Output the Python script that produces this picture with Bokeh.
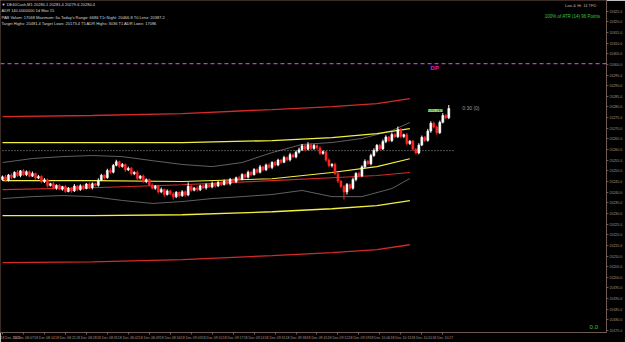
from bokeh.plotting import figure
from bokeh.models import (Range1d, FixedTicker, Label, Span, PrintfTickFormatter,
                          ColumnDataSource)
from bokeh.embed import file_html
from bokeh.resources import INLINE

# ---------------- data ----------------
closes = [20247.2, 20245.6, 20248.1, 20246.9, 20249.3, 20247.8, 20250.0, 20248.2, 20249.6, 20247.5,
          20248.8, 20246.6, 20247.4, 20244.9, 20245.8, 20243.1, 20244.0, 20241.9, 20243.2, 20241.4,
          20242.6, 20240.3, 20241.8, 20240.6, 20242.9, 20241.2, 20243.0, 20241.7, 20243.8, 20242.1,
          20244.0, 20243.2, 20245.6, 20247.9, 20246.8, 20250.2, 20249.4, 20252.6, 20254.3, 20252.1,
          20253.0, 20250.4, 20251.2, 20248.6, 20249.3, 20246.5, 20247.6, 20245.1, 20245.9, 20243.4,
          20241.8, 20242.9, 20240.1, 20241.3, 20238.9, 20240.6, 20239.2, 20237.8, 20239.9, 20238.3,
          20240.2, 20238.7, 20242.8, 20240.9, 20242.0, 20241.1, 20243.0, 20241.9, 20243.6, 20242.4,
          20244.1, 20242.9, 20244.6, 20243.5, 20245.2, 20244.0, 20246.0, 20244.9, 20246.8, 20246.1,
          20248.3, 20247.0, 20249.4, 20248.2, 20250.6, 20249.3, 20251.9, 20250.5, 20252.8, 20251.6,
          20254.0, 20252.7, 20255.1, 20254.0, 20256.3, 20255.2, 20257.6, 20256.5, 20258.8, 20259.9,
          20261.8, 20260.1, 20262.3, 20260.5, 20261.9, 20260.7, 20258.2, 20259.0, 20255.1, 20252.4,
          20253.1, 20248.7, 20245.2, 20242.6, 20240.1, 20243.6, 20241.8, 20245.9, 20248.8, 20247.6,
          20251.9, 20254.5, 20253.3, 20257.2, 20259.6, 20262.0, 20260.3, 20263.8, 20265.9, 20264.2,
          20267.1, 20266.0, 20269.4, 20266.1, 20267.0, 20262.8, 20263.9, 20260.2, 20258.4, 20262.1,
          20265.8, 20264.3, 20268.7, 20272.4, 20270.6, 20267.9, 20272.8, 20276.0, 20274.9, 20279.3]
first_open = 20245.9

upper_wicks = [0.6, 0.9, 0.4, 0.7, 0.5, 1.1, 0.4, 0.8, 0.6, 0.5,
               0.9, 0.4, 0.7, 0.5, 0.8, 0.6, 0.4, 1.0, 0.5, 0.7,
               0.4, 0.8, 0.6, 0.5, 0.9, 0.4, 0.7, 0.6, 0.5, 0.8,
               0.6, 0.4, 0.9, 0.7, 0.5, 0.8, 1.0, 0.6, 0.9, 0.5,
               0.7, 0.4, 0.8, 0.6, 0.5, 0.9, 0.4, 0.7, 0.6, 0.5,
               0.8, 0.5, 0.6, 0.9, 0.4, 0.7, 0.5, 0.8, 0.6, 0.4,
               0.7, 0.5, 1.8, 0.6, 0.4, 0.8, 0.5, 0.7, 0.6, 0.4,
               0.9, 0.5, 0.6, 0.4, 0.8, 0.5, 0.7, 0.6, 0.5, 0.9,
               0.6, 0.4, 0.8, 0.5, 0.7, 0.6, 0.9, 0.4, 0.6, 0.8,
               0.5, 0.7, 0.6, 0.4, 0.8, 0.5, 0.9, 0.6, 0.7, 1.0,
               0.8, 0.5, 1.2, 0.6, 0.7, 0.5, 0.9, 0.6, 0.4, 0.8,
               0.5, 0.7, 0.6, 0.4, 0.8, 0.7, 0.5, 0.9, 0.6, 0.8,
               0.7, 0.9, 0.5, 0.8, 1.0, 0.6, 0.7, 0.9, 0.8, 0.5,
               0.9, 0.6, 1.4, 0.7, 0.5, 0.8, 0.6, 0.7, 0.5, 0.9,
               0.8, 0.6, 1.0, 0.9, 0.7, 0.6, 0.8, 1.1, 0.7, 1.6]
lower_wicks = [0.5, 0.7, 0.6, 0.9, 0.4, 0.6, 0.8, 0.5, 0.7, 0.6,
               0.4, 0.8, 0.5, 0.7, 0.6, 0.9, 0.5, 0.6, 0.8, 0.5,
               0.7, 0.6, 0.4, 0.9, 0.5, 0.7, 0.6, 0.8, 0.4, 0.6,
               0.8, 0.5, 0.6, 0.4, 0.9, 0.5, 0.7, 0.6, 0.5, 0.8,
               0.6, 0.9, 0.5, 0.7, 0.6, 0.8, 0.5, 0.7, 0.9, 0.6,
               0.5, 0.7, 0.8, 0.6, 1.1, 0.5, 0.7, 1.3, 0.6, 0.8,
               0.5, 0.9, 0.6, 0.7, 0.5, 0.8, 0.6, 0.4, 0.7, 0.5,
               0.6, 0.8, 0.5, 0.7, 0.4, 0.6, 0.8, 0.5, 0.7, 0.6,
               0.5, 0.7, 0.6, 0.8, 0.4, 0.6, 0.5, 0.7, 0.6, 0.5,
               0.8, 0.6, 0.5, 0.7, 0.4, 0.6, 0.8, 0.5, 0.6, 0.7,
               0.6, 0.9, 0.5, 0.7, 0.6, 0.8, 0.7, 0.6, 0.9, 0.7,
               0.8, 0.6, 1.0, 0.7, 3.6, 1.2, 0.9, 0.6, 0.8, 0.7,
               0.6, 0.8, 0.5, 0.7, 0.6, 0.9, 0.7, 0.5, 0.8, 0.6,
               0.7, 0.5, 0.6, 0.8, 0.7, 0.9, 0.6, 0.8, 0.7, 0.6,
               0.5, 0.7, 0.6, 0.8, 0.7, 0.9, 0.6, 0.5, 0.7, 0.6]

# indicator lines (sampled at bars)
band_bars = [0, 30, 60, 90, 110, 125, 136]
red_upper = [20275.5, 20276.0, 20276.9, 20278.8, 20280.2, 20281.6, 20283.9]
red_lower = [20206.9, 20207.3, 20208.3, 20210.2, 20211.6, 20213.0, 20215.3]
red_mid = [20241.2, 20242.1, 20243.5, 20245.4, 20246.8, 20247.8, 20249.2]
yellow_upper = [20263.3, 20263.3, 20263.3, 20264.2, 20265.6, 20267.5, 20269.8]
yellow_lower = [20229.0, 20229.0, 20229.4, 20230.8, 20232.2, 20233.7, 20236.0]
yellow_mid = [20245.4, 20245.4, 20245.0, 20246.3, 20249.2, 20252.0, 20255.7]

env_bars = [0, 10, 20, 30, 40, 50, 60, 70, 80, 90, 100, 110, 120, 130, 136]
gray_upper = [20253.9, 20255.8, 20256.7, 20257.2, 20256.7, 20254.8, 20253.0, 20252.0, 20253.9,
              20258.6, 20262.4, 20263.3, 20265.2, 20268.9, 20272.7]
gray_lower = [20237.0, 20237.9, 20238.4, 20237.9, 20236.1, 20234.7, 20235.6, 20237.0, 20237.9,
              20238.9, 20240.8, 20237.9, 20237.9, 20241.7, 20246.4]

dotted_level = 20259.5
dp_level = 20300.4
green_tag = 20278.3

time_tick_bars = list(range(0, 148, 7))
time_labels = ["18 Dec 2024", "18 Dec 08:07", "18 Dec 08:14", "18 Dec 08:21", "18 Dec 08:28",
               "18 Dec 08:35", "18 Dec 08:42", "18 Dec 08:49", "18 Dec 08:56", "18 Dec 09:03",
               "18 Dec 09:10", "18 Dec 09:17", "18 Dec 09:24", "18 Dec 09:31", "18 Dec 09:38",
               "18 Dec 09:45", "18 Dec 09:52", "18 Dec 09:59", "18 Dec 10:06", "18 Dec 10:13",
               "18 Dec 10:20", "18 Dec 10:27"]
price_ticks = [20175 + 5 * k for k in range(31)]

info_lines = ["\u25bc DE40Cash,M1  20280.1 20281.4 20279.6 20280.4",
              "ADR 140.0000000 1d Mov 15",
              "PAB Volum: 17068  Maximum: 6a  Today's Range: 6686  T1r Night: 20466.8  T0 Lenz: 20387.2",
              "Target Highs: 20481.4  Target Lows: 20173.4  T5 ADR Highs: 3036  T1 ADR Lows: 17086"]

# ---------------- figure ----------------
BG = "#000000"
AXC = "#a89484"
FONT = "Liberation Sans"

p = figure(width=625, height=342, x_range=Range1d(-0.66, 201.65),
           y_range=Range1d(20174.1, 20330.0), output_backend="svg",
           toolbar_location=None, y_axis_location="right",
           min_border_left=0, min_border_top=0, min_border_right=0, min_border_bottom=0)
p.background_fill_color = BG
p.border_fill_color = BG
p.outline_line_color = "#3c2c28"
p.grid.visible = False

for ax in (p.xaxis[0], p.yaxis[0]):
    ax.axis_line_color = "#6e5a50"
    ax.major_tick_line_color = "#6e5a50"
    ax.minor_tick_line_color = None
    ax.major_tick_out = 2
    ax.major_tick_in = 0
    ax.major_label_text_color = AXC
    ax.major_label_text_font = FONT
    ax.major_label_text_font_size = "3.5px"
    ax.major_label_standoff = 1

p.yaxis[0].ticker = FixedTicker(ticks=price_ticks)
p.yaxis[0].formatter = PrintfTickFormatter(format="%.1f")
p.xaxis[0].ticker = FixedTicker(ticks=time_tick_bars)
p.xaxis[0].major_label_overrides = {b: t for b, t in zip(time_tick_bars, time_labels)}
p.xaxis[0].major_label_text_align = "left"

# candles
n = len(closes)
opens = [first_open] + closes[:-1]
tops = [max(o, c) for o, c in zip(opens, closes)]
bots = [min(o, c) for o, c in zip(opens, closes)]
colors = ["#ffffff" if c >= o else "#ff2424" for o, c in zip(opens, closes)]
src = ColumnDataSource(dict(
    x=list(range(n)),
    high=[t + w for t, w in zip(tops, upper_wicks)],
    low=[b - w for b, w in zip(bots, lower_wicks)],
    top=tops, bottom=bots, color=colors))

# envelopes / bands
p.line(env_bars, gray_upper, line_color="#8a8a8a", line_width=0.7)
p.line(env_bars, gray_lower, line_color="#8a8a8a", line_width=0.7)
p.line(band_bars, red_upper, line_color="#d42a2a", line_width=1.3)
p.line(band_bars, red_lower, line_color="#d42a2a", line_width=1.3)
p.line(band_bars, red_mid, line_color="#d42a2a", line_width=1.1)
p.line(band_bars, yellow_upper, line_color="#f4f040", line_width=1.3)
p.line(band_bars, yellow_lower, line_color="#f4f040", line_width=1.3)
p.line(band_bars, yellow_mid, line_color="#f4f040", line_width=1.1)

p.segment(x0=[0], y0=[dotted_level], x1=[n + 1], y1=[dotted_level],
          line_color="#c8c8c8", line_dash="1 2", line_width=0.8)
p.add_layout(Span(location=dp_level, dimension="width", line_color="#c03cc0",
                  line_dash="4 3", line_width=1.2))

p.segment(x0="x", y0="low", x1="x", y1="high", line_color="color", line_width=1, source=src)
p.vbar(x="x", width=0.68, top="top", bottom="bottom", fill_color="color",
       line_color="color", line_width=0.5, source=src)

# texts
ytop = 20330.0
for i, t in enumerate(info_lines):
    p.add_layout(Label(x=-0.3, y=ytop - 1.8 - 3.0 * i, text=t, text_color="#d8d8d8",
                       text_font=FONT, text_font_size="4px", text_baseline="middle"))

p.add_layout(Label(x=198.3, y=ytop - 2.4, text="Low & Hi: 14 TFD", text_color="#b0b0b0",
                   text_font=FONT, text_font_size="4px", text_align="right",
                   text_baseline="middle"))
p.add_layout(Label(x=199.6, y=ytop - 7.6, text="100% of ATR (14) 96 Points",
                   text_color="#3cc43c", text_font=FONT, text_font_size="4.5px",
                   text_align="right", text_baseline="middle"))
p.add_layout(Label(x=144.3, y=dp_level - 2.3, text="DP", text_color="#e020e0",
                   text_font=FONT, text_font_size="6px", text_font_style="bold",
                   text_align="center", text_baseline="middle"))
p.add_layout(Label(x=144.5, y=green_tag, text="20281.0", text_color="#ffffff",
                   background_fill_color="#1e9a28", text_font=FONT, text_font_size="4px",
                   text_align="center", text_baseline="middle"))
p.add_layout(Label(x=153.5, y=closes[-1], text="0:30 (0)", text_color="#9a9a9a",
                   text_font=FONT, text_font_size="5px", text_baseline="middle"))
p.add_layout(Label(x=198.8, y=20176.7, text="0.0", text_color="#3cc43c",
                   text_font=FONT, text_font_size="6px", text_align="right",
                   text_baseline="middle"))

# axis tags
p.add_layout(Label(x=201.9, y=dp_level, text="%.1f" % dp_level, text_color="#ffffff",
                   background_fill_color="#c020c0", text_font=FONT, text_font_size="3.5px",
                   text_baseline="middle"))
p.add_layout(Label(x=201.9, y=closes[-1], text="%.1f" % closes[-1], text_color="#202020",
                   background_fill_color="#e0904a", text_font=FONT, text_font_size="3.5px",
                   text_baseline="middle"))

open("out.html", "w").write(file_html(p, INLINE))
